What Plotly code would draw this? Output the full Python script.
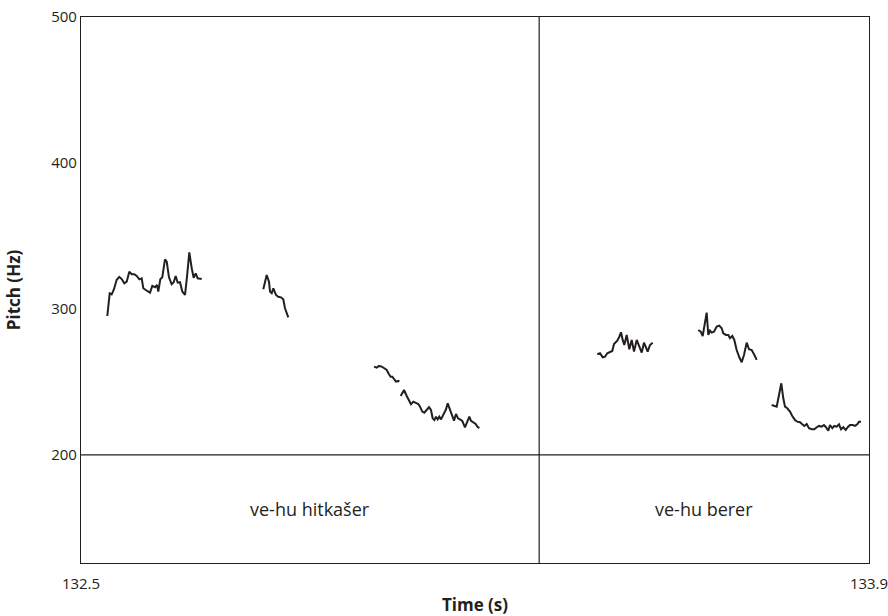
import plotly.graph_objects as go

# Pitch contour segments (time in s, F0 in Hz)
seg1_t = [132.5467, 132.5510, 132.5545, 132.5586, 132.5634, 132.5680, 132.5723, 132.5769,
          132.5812, 132.5858, 132.5901, 132.5947, 132.5990, 132.6036, 132.6078, 132.6107,
          132.6150, 132.6196, 132.6226, 132.6267, 132.6315, 132.6350, 132.6373, 132.6409,
          132.6444, 132.6492, 132.6523, 132.6563, 132.6611, 132.6647, 132.6682, 132.6718,
          132.6759, 132.6800, 132.6848, 132.6883, 132.6924, 132.6967, 132.7002, 132.7038,
          132.7073, 132.7144]
seg1_f = [295.2, 310.7, 310.0, 313.5, 320.0, 322.0, 320.5, 317.6, 318.7, 325.5, 323.8, 323.8,
          322.6, 320.3, 321.0, 314.2, 313.0, 311.9, 311.2, 315.8, 314.9, 316.4, 311.9, 320.3,
          321.7, 334.0, 332.4, 321.7, 316.9, 318.3, 322.6, 318.0, 318.3, 311.9, 309.6, 322.0,
          338.8, 327.9, 321.4, 324.4, 321.0, 320.5]

seg2_t = [132.8239, 132.8299, 132.8340, 132.8358, 132.8388, 132.8417, 132.8464, 132.8505,
          132.8553, 132.8594, 132.8624, 132.8665, 132.8683]
seg2_f = [313.5, 323.3, 318.7, 311.9, 310.8, 314.2, 309.6, 308.4, 308.0, 306.6, 300.5, 295.9, 294.3]

seg3_t = [133.0206, 133.0254, 133.0294, 133.0342, 133.0389, 133.0431, 133.0472, 133.0502,
          133.0531, 133.0566, 133.0596, 133.0637, 133.0655, None,
          133.0680, 133.0739, 133.0787, 133.0827, 133.0863, 133.0904, 133.0952, 133.0993,
          133.1023, 133.1064, 133.1099, 133.1142, 133.1183, 133.1218, 133.1248, 133.1277,
          133.1307, 133.1337, 133.1366, 133.1396, 133.1426, 133.1455, 133.1485, 133.1515,
          133.1556, 133.1591, 133.1627, 133.1662, 133.1698, 133.1733, 133.1774, 133.1822,
          133.1863, 133.1899, 133.1929, 133.1970, 133.2012, 133.2041, 133.2076]
seg3_f = [260.5, 259.8, 261.0, 260.5, 259.4, 258.2, 255.3, 253.6, 253.6, 251.4, 250.2, 250.7,
          250.2, None,
          240.4, 244.5, 240.4, 237.7, 234.7, 236.5, 235.4, 234.9, 233.1, 229.7, 229.0, 230.8,
          232.7, 230.8, 225.1, 223.9, 226.2, 224.4, 226.2, 224.4, 226.7, 228.1, 231.3, 235.4,
          230.8, 226.2, 223.5, 228.1, 225.1, 224.4, 223.3, 218.9, 222.8, 226.2, 223.3, 222.1,
          221.2, 219.4, 218.3]

seg4_t = [133.4173, 133.4221, 133.4269, 133.4310, 133.4350, 133.4398, 133.4439, 133.4470,
          133.4500, 133.4528, 133.4564, 133.4594, 133.4624, 133.4653, 133.4695, 133.4741,
          133.4784, 133.4825, 133.4873, 133.4919, 133.4962, 133.5002, 133.5038, 133.5068,
          133.5109, 133.5157]
seg4_f = [269.0, 269.7, 266.9, 267.3, 269.7, 270.8, 271.2, 276.0, 276.9, 278.3, 281.0, 284.0,
          278.8, 275.3, 282.2, 272.4, 278.8, 270.8, 278.8, 274.7, 270.1, 276.9, 273.1, 270.8,
          275.3, 276.9]

seg5_t = [133.5967, 133.6010, 133.6045, 133.6086, 133.6116, 133.6145, 133.6175, 133.6205,
          133.6246, 133.6294, 133.6340, 133.6383, 133.6411, 133.6459, 133.6500, 133.6530,
          133.6571, 133.6607, 133.6649, 133.6696, 133.6738, 133.6779, 133.6827, 133.6868,
          133.6916, 133.6957, 133.7005]
seg5_f = [285.6, 284.5, 281.5, 290.2, 297.5, 282.2, 285.2, 283.8, 284.5, 287.9, 288.6, 286.8,
          283.3, 282.2, 282.2, 280.0, 281.5, 278.8, 271.9, 266.9, 263.5, 268.5, 276.9, 272.4,
          271.9, 269.0, 265.1]

seg6_t = [133.7271, 133.7317, 133.7360, 133.7401, 133.7442, 133.7477, 133.7508, 133.7548,
          133.7596, 133.7637, 133.7685, 133.7726, 133.7774, 133.7815, 133.7850, 133.7893,
          133.7934, 133.7982, 133.8028, 133.8071, 133.8112, 133.8160, 133.8200, 133.8236,
          133.8277, 133.8307, 133.8348, 133.8383, 133.8426, 133.8467, 133.8503, 133.8543,
          133.8586, 133.8622, 133.8662, 133.8710, 133.8751, 133.8792, 133.8822, 133.8858]
seg6_f = [234.2, 233.8, 233.1, 241.1, 249.1, 238.8, 233.1, 232.0, 229.7, 226.7, 224.0, 222.8,
          222.4, 221.0, 219.9, 221.2, 218.3, 217.6, 217.6, 219.0, 219.9, 219.4, 220.5, 219.0,
          216.6, 220.5, 218.3, 219.9, 219.4, 221.0, 217.6, 219.0, 217.1, 219.0, 220.5, 220.5,
          219.9, 221.0, 222.8, 222.8]

# Text tier: interval boundaries and labels
t_start, t_end = 132.5, 133.9
boundaries = [133.314]
interval_labels = ["ve-hu hitkašer", "ve-hu berer"]

f_min, f_max = 200, 500      # pitch panel range
tier_bottom = 126            # lower edge of the text tier
y_ticks = [200, 300, 400, 500]
x_ticks = [132.5, 133.9]
x_ticktext = ["132.5", "133.9"]

FONT = "Open Sans"
INK = "#231f20"

fig = go.Figure()
segments = [(seg1_t, seg1_f), (seg2_t, seg2_f), (seg3_t, seg3_f),
            (seg4_t, seg4_f), (seg5_t, seg5_f), (seg6_t, seg6_f)]
for ts, fs in segments:
    fig.add_trace(go.Scatter(x=ts, y=fs, mode="lines",
                             line=dict(color=INK, width=2),
                             connectgaps=False, showlegend=False, hoverinfo="skip"))

# Separator between the pitch panel and the text tier
fig.add_shape(type="line", xref="x", yref="y", x0=t_start, x1=t_end, y0=f_min, y1=f_min,
              line=dict(color=INK, width=1.2))
# Interval boundaries
for b in boundaries:
    fig.add_shape(type="line", xref="x", yref="y", x0=b, x1=b, y0=tier_bottom, y1=f_max,
                  line=dict(color=INK, width=1.2))

edges = [t_start] + boundaries + [t_end]
for i, lab in enumerate(interval_labels):
    fig.add_annotation(x=(edges[i] + edges[i + 1]) / 2, y=(tier_bottom + f_min) / 2,
                       text=lab, showarrow=False, xref="x", yref="y",
                       font=dict(family=FONT, size=18, color=INK))

fig.update_xaxes(range=[t_start, t_end], tickvals=x_ticks, ticktext=x_ticktext,
                 showgrid=False, zeroline=False, showline=True, mirror=True,
                 linecolor=INK, linewidth=1.2, ticks="", automargin=False,
                 ticklabelstandoff=7, ticklabeloverflow="allow",
                 tickfont=dict(family=FONT, size=15, color=INK),
                 title=dict(text="<b>Time (s)</b>", font=dict(family=FONT, size=17, color=INK),
                            standoff=13))
fig.update_yaxes(range=[tier_bottom, f_max], tickvals=y_ticks, automargin=False,
                 showgrid=False, zeroline=False, showline=True, mirror=True,
                 linecolor=INK, linewidth=1.2, ticks="", ticklabeloverflow="allow",
                 tickfont=dict(family=FONT, size=15, color=INK),
                 title=dict(text="<b>Pitch (Hz)</b>", font=dict(family=FONT, size=17, color=INK),
                            standoff=26))

fig.update_layout(width=888, height=616, plot_bgcolor="white", paper_bgcolor="white",
                  margin=dict(l=81, r=19, t=17, b=53))

fig.write_html("out.html")
